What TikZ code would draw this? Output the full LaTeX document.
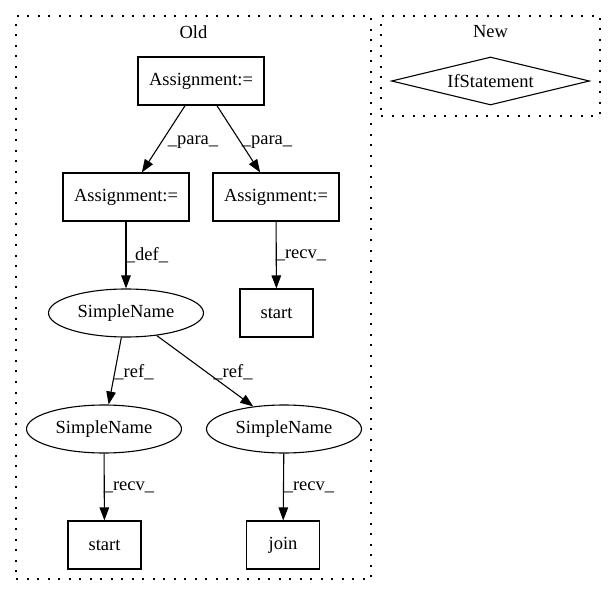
\documentclass[tikz,border=0pt]{standalone}
\usepackage{fontspec}
\setmainfont{Liberation Serif}
\usetikzlibrary{shapes.geometric,arrows.meta}
\begin{document}
\begin{tikzpicture}[x=1pt,y=-1pt,
  every node/.style={font=\fontsize{18.5}{22}\selectfont, inner sep=0pt},
  box/.style={draw, line width=1.1pt, rectangle, minimum height=48pt},
  abox/.style={box, minimum width=126pt},
  sbox/.style={box, minimum width=73pt},
  ell/.style={draw, line width=1.1pt, ellipse, minimum width=155pt, minimum height=48pt},
  dia/.style={draw, line width=1.1pt, diamond, aspect=4.1, minimum width=198pt, minimum height=48pt},
  cluster/.style={draw, line width=1.2pt, dash pattern=on 2pt off 8.5pt, rectangle},
  arr/.style={line width=1.1pt, -{Triangle[length=13pt,width=9.5pt]}},
  lbl/.style={fill=none}
]
\useasboundingbox (0,0) rectangle (616,596);

% clusters
\node[cluster, minimum width=355pt, minimum height=563pt] (old) at (193.5,297.5) {};
\node[cluster, minimum width=219pt, minimum height=100pt] (new) at (490.5,66) {};
\node (oldlbl) at (193.5,32) {Old};
\node (newlbl) at (490.5,32) {New};

% nodes
\node[dia] (ifs) at (490.5,81) {IfStatement};
\node[abox] (a1) at (201,81) {Assignment:=};
\node[abox] (a2) at (126,197) {Assignment:=};
\node[abox] (a3) at (276,197) {Assignment:=};
\node[ell] (s1) at (126,313) {SimpleName};
\node[sbox] (st1) at (276.5,313) {start};
\node[ell] (s2) at (104,429) {SimpleName};
\node[ell] (s3) at (284,429) {SimpleName};
\node[sbox] (st2) at (104.5,545) {start};
\node[sbox] (jn) at (283,545) {join};

% edges
\draw[arr] (a1) -- (a2);
\draw[arr] (a1) -- (a3);
\draw[arr] (a2) -- (s1);
\draw[arr] (a3) -- (st1);
\draw[arr] (s1) -- (s2);
\draw[arr] (s1) -- (s3);
\draw[arr] (s2) -- (st2);
\draw[arr] (s3) -- (jn);

% edge labels
\node[lbl] (l1) at (193,142) {\_para\_};
\node[lbl] (l2) at (267,142) {\_para\_};
\node[lbl] (l3) at (147,255) {\_def\_};
\node[lbl] (l4) at (301,255) {\_recv\_};
\node[lbl] (l5) at (134,372) {\_ref\_};
\node[lbl] (l6) at (233,372) {\_ref\_};
\node[lbl] (l7) at (129,487) {\_recv\_};
\node[lbl] (l8) at (309,487) {\_recv\_};
\end{tikzpicture}
\end{document}
